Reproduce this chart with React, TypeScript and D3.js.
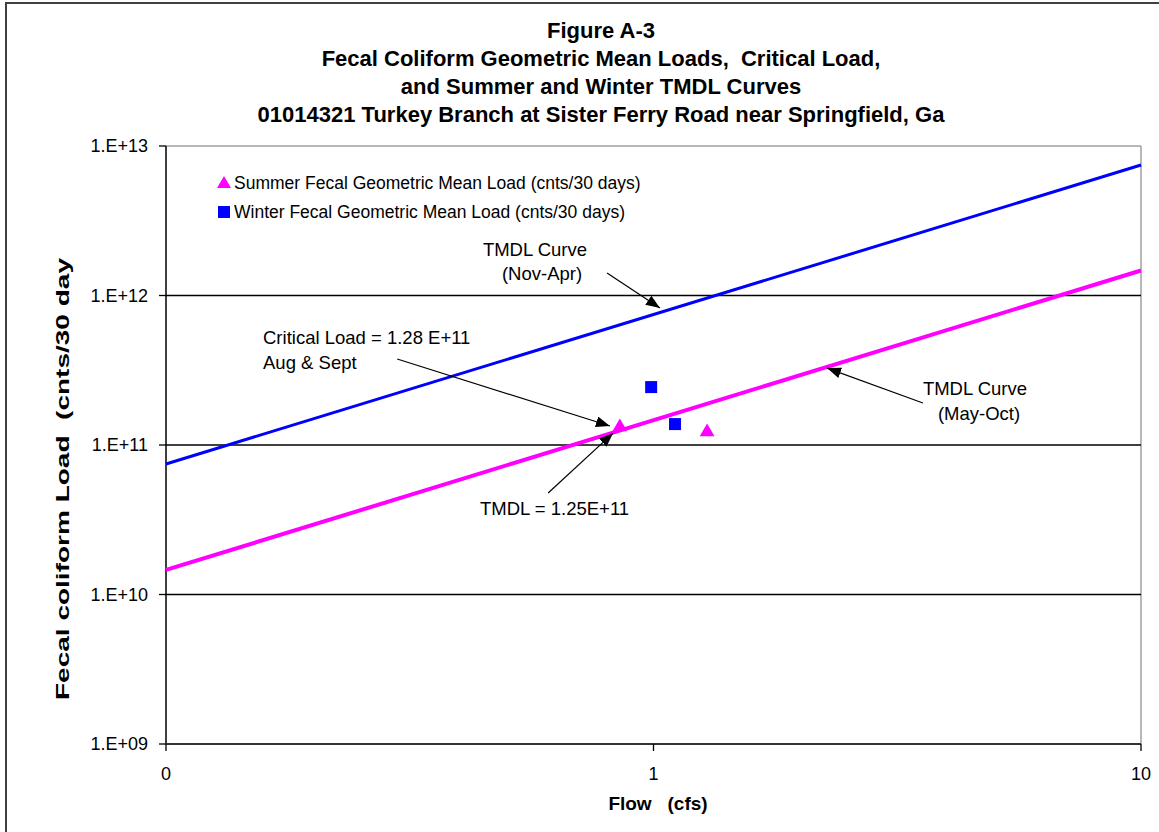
import React, {useEffect, useRef} from 'react';
import * as d3 from 'd3';

// chart values
const titleLines = [
  'Figure A-3',
  'Fecal Coliform Geometric Mean Loads,\u00a0\u00a0Critical Load,',
  'and Summer and Winter TMDL Curves',
  '01014321 Turkey Branch at Sister Ferry Road near Springfield, Ga',
];
const yTicks = [1e9, 1e10, 1e11, 1e12, 1e13];
const yTickLabels = ['1.E+09', '1.E+10', '1.E+11', '1.E+12', '1.E+13'];
const xTicks = [0.1, 1, 10];
const xTickLabels = ['0', '1', '10'];

const summerFlow = [0.853, 1.288];
const summerLoad = [1.32e11, 1.22e11];
const winterFlow = [0.989, 1.107];
const winterLoad = [2.44e11, 1.38e11];

const curveFlow = [0.1, 10];
const winterCurve = [7.46e10, 7.46e12];
const summerCurve = [1.46e10, 1.47e12];

const legendLabels = [
  'Summer Fecal Geometric Mean Load (cnts/30 days)',
  'Winter Fecal Geometric Mean Load (cnts/30 days)',
];

// arrows in data units: [fromFlow, fromLoad, toFlow, toLoad]
const arrows = [
  [0.803, 1.414e12, 1.031, 8.25e11],
  [0.298, 3.76e11, 0.814, 1.34e11],
  [0.608, 4.77e10, 0.826, 1.2e11],
  [3.57, 1.91e11, 2.27, 3.27e11],
];

const W = 1159;
const H = 832;
const FONT = '"Liberation Sans", Arial, sans-serif';

export default function App() {
  const ref = useRef<SVGSVGElement>(null);

  useEffect(() => {
    const svg = d3.select(ref.current);
    svg.selectAll('*').remove();

    const x = d3.scaleLog().domain([0.1, 10]).range([166, 1141]);
    const y = d3.scaleLog().domain([1e9, 1e13]).range([744, 146]);

    svg.append('rect').attr('width', W).attr('height', H).attr('fill', 'white');

    // outer chart border (only left/top visible)
    svg.append('path')
      .attr('d', `M6,${H} V3 H${W}`)
      .attr('fill', 'none')
      .attr('stroke', '#404040')
      .attr('stroke-width', 2);

    const defs = svg.append('defs');
    defs.append('marker')
      .attr('id', 'ah')
      .attr('viewBox', '0 0 14 11')
      .attr('refX', 14)
      .attr('refY', 5.5)
      .attr('markerWidth', 14)
      .attr('markerHeight', 11)
      .attr('markerUnits', 'userSpaceOnUse')
      .attr('orient', 'auto')
      .append('path')
      .attr('d', 'M0,0 L14,5.5 L0,11 Z')
      .attr('fill', 'black');

    // title
    svg.append('g')
      .attr('font-family', FONT)
      .attr('font-weight', 'bold')
      .attr('font-size', 22)
      .attr('text-anchor', 'middle')
      .selectAll('text')
      .data(titleLines)
      .join('text')
      .attr('x', 601)
      .attr('y', (d, i) => 30 + i * 28.3)
      .attr('dominant-baseline', 'central')
      .text(d => d);

    // plot frame
    svg.append('line')
      .attr('x1', x(0.1)).attr('x2', x(10))
      .attr('y1', y(1e13)).attr('y2', y(1e13))
      .attr('stroke', '#a0a0a0').attr('stroke-width', 1.5);
    svg.append('line')
      .attr('x1', x(10)).attr('x2', x(10))
      .attr('y1', y(1e13)).attr('y2', y(1e9))
      .attr('stroke', '#a0a0a0').attr('stroke-width', 1.5);

    // gridlines
    svg.append('g')
      .selectAll('line')
      .data(yTicks.slice(1, -1))
      .join('line')
      .attr('x1', x(0.1)).attr('x2', x(10))
      .attr('y1', d => y(d)).attr('y2', d => y(d))
      .attr('stroke', 'black').attr('stroke-width', 1.3);

    // y axis
    const yAxis = svg.append('g').attr('font-family', FONT).attr('font-size', 18);
    yAxis.append('line')
      .attr('x1', x(0.1)).attr('x2', x(0.1))
      .attr('y1', y(1e13)).attr('y2', y(1e9))
      .attr('stroke', 'black').attr('stroke-width', 1.5);
    yAxis.selectAll('line.tick')
      .data(yTicks)
      .join('line')
      .attr('class', 'tick')
      .attr('x1', x(0.1) - 7).attr('x2', x(0.1))
      .attr('y1', d => y(d)).attr('y2', d => y(d))
      .attr('stroke', 'black').attr('stroke-width', 1.3);
    yAxis.selectAll('text')
      .data(yTicks)
      .join('text')
      .attr('x', 148)
      .attr('y', d => y(d))
      .attr('text-anchor', 'end')
      .attr('dominant-baseline', 'central')
      .text((d, i) => yTickLabels[i]);

    // x axis
    const xAxis = svg.append('g').attr('font-family', FONT).attr('font-size', 18);
    xAxis.append('line')
      .attr('x1', x(0.1)).attr('x2', x(10))
      .attr('y1', y(1e9)).attr('y2', y(1e9))
      .attr('stroke', '#333').attr('stroke-width', 2);
    xAxis.selectAll('line.tick')
      .data(xTicks)
      .join('line')
      .attr('class', 'tick')
      .attr('x1', d => x(d)).attr('x2', d => x(d))
      .attr('y1', y(1e9)).attr('y2', y(1e9) + 7)
      .attr('stroke', 'black').attr('stroke-width', 1.3);
    xAxis.selectAll('text')
      .data(xTicks)
      .join('text')
      .attr('x', d => x(d))
      .attr('y', 774)
      .attr('text-anchor', 'middle')
      .attr('dominant-baseline', 'central')
      .text((d, i) => xTickLabels[i]);

    // axis titles
    svg.append('text')
      .attr('x', 658)
      .attr('y', 803)
      .attr('font-family', FONT)
      .attr('font-weight', 'bold')
      .attr('font-size', 19)
      .attr('text-anchor', 'middle')
      .attr('dominant-baseline', 'central')
      .text('Flow\u00a0\u00a0\u00a0(cfs)');
    svg.append('text')
      .attr('transform', 'translate(62,479) rotate(-90)')
      .attr('font-family', FONT)
      .attr('font-weight', 'bold')
      .attr('font-size', 19)
      .attr('text-anchor', 'middle')
      .attr('dominant-baseline', 'central')
      .attr('textLength', 442)
      .attr('lengthAdjust', 'spacingAndGlyphs')
      .text('Fecal coliform Load\u00a0\u00a0(cnts/30 day');

    // TMDL curves
    const line = d3.line<number>()
      .x((d, i) => x(curveFlow[i]))
      .y(d => y(d));
    svg.append('path')
      .attr('d', line(winterCurve))
      .attr('fill', 'none')
      .attr('stroke', '#0000ff')
      .attr('stroke-width', 3);
    svg.append('path')
      .attr('d', line(summerCurve))
      .attr('fill', 'none')
      .attr('stroke', '#ff00ff')
      .attr('stroke-width', 4);

    // annotation arrows
    svg.append('g')
      .selectAll('line')
      .data(arrows)
      .join('line')
      .attr('x1', d => x(d[0])).attr('y1', d => y(d[1]))
      .attr('x2', d => x(d[2])).attr('y2', d => y(d[3]))
      .attr('stroke', 'black')
      .attr('stroke-width', 1.2)
      .attr('marker-end', 'url(#ah)');

    // markers
    const tri = d3.symbol().type(d3.symbolTriangle).size(95);
    svg.append('g')
      .selectAll('path')
      .data(summerFlow)
      .join('path')
      .attr('transform', (d, i) => `translate(${x(d)},${y(summerLoad[i])})`)
      .attr('d', tri())
      .attr('fill', '#ff00ff');
    svg.append('g')
      .selectAll('rect')
      .data(winterFlow)
      .join('rect')
      .attr('x', d => x(d) - 6)
      .attr('y', (d, i) => y(winterLoad[i]) - 6)
      .attr('width', 12)
      .attr('height', 12)
      .attr('fill', '#0000ff');

    // annotation texts
    const notes = svg.append('g')
      .attr('font-family', FONT)
      .attr('font-size', 18.5)
      .attr('dominant-baseline', 'central');
    const addNote = (tx: number, ty: number, s: string, anchor: string) =>
      notes.append('text').attr('x', tx).attr('y', ty).attr('text-anchor', anchor).text(s);
    addNote(535, 249, 'TMDL Curve', 'middle');
    addNote(542, 273, '(Nov-Apr)', 'middle');
    addNote(263, 337, 'Critical Load = 1.28 E+11', 'start');
    addNote(263, 362, 'Aug & Sept', 'start');
    addNote(480, 508, 'TMDL = 1.25E+11', 'start');
    addNote(975, 388, 'TMDL Curve', 'middle');
    addNote(979, 413, '(May-Oct)', 'middle');

    // legend
    const legend = svg.append('g')
      .attr('font-family', FONT)
      .attr('font-size', 17.5);
    legend.append('path')
      .attr('transform', 'translate(224,184)')
      .attr('d', d3.symbol().type(d3.symbolTriangle).size(85)())
      .attr('fill', '#ff00ff');
    legend.append('rect')
      .attr('x', 218).attr('y', 206).attr('width', 12).attr('height', 12)
      .attr('fill', '#0000ff');
    legend.selectAll('text')
      .data(legendLabels)
      .join('text')
      .attr('x', 234)
      .attr('y', (d, i) => 183 + i * 29)
      .attr('dominant-baseline', 'central')
      .text(d => d);
  }, []);

  return (
    <svg ref={ref} width={W} height={H}
         style={{position: 'absolute', left: 0, top: 0, display: 'block'}}/>
  );
}
